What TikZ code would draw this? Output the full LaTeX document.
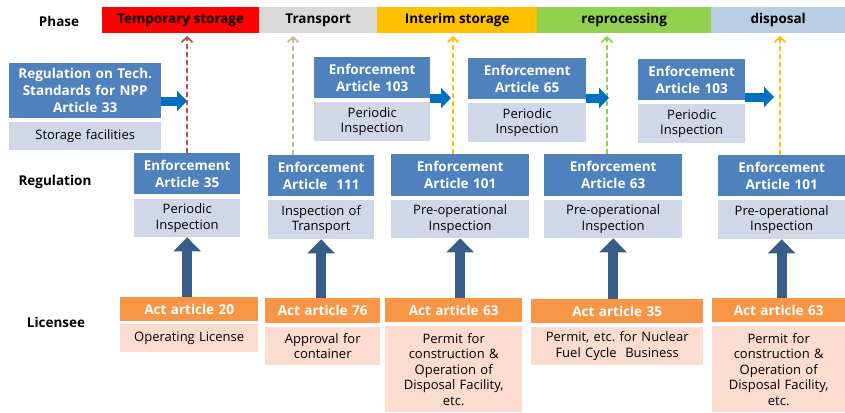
\documentclass[tikz,border=0pt]{standalone}
\usepackage{fontspec}
\setmainfont{Open Sans}
\usetikzlibrary{arrows.meta}
\usetikzlibrary{positioning}

\definecolor{hdrblue}{HTML}{4F81BD}
\definecolor{subgray}{HTML}{D0D8E8}
\definecolor{actorange}{HTML}{F79646}
\definecolor{actpeach}{HTML}{FCDCCE}
\definecolor{flowblue}{HTML}{0070C0}
\definecolor{upblue}{HTML}{385D8A}
\definecolor{phred}{HTML}{FF0000}
\definecolor{phgray}{HTML}{D9D9D9}
\definecolor{phorange}{HTML}{FFC000}
\definecolor{phgreen}{HTML}{92D050}
\definecolor{phblue}{HTML}{B9CDE5}
\definecolor{dashred}{HTML}{C0504D}
\definecolor{dashtan}{HTML}{C4BD97}

\newcommand{\hdrfont}{\bfseries\fontsize{13.5}{17}\selectfont}
\newcommand{\subfont}{\fontsize{13}{15.5}\selectfont}

\begin{document}
\begin{tikzpicture}[x=1pt,y=-1pt,
    regbox/.style={anchor=north west, fill=hdrblue, text=white, font=\hdrfont, align=center, inner sep=0pt},
    insbox/.style={anchor=north west, fill=subgray, font=\subfont, align=center, inner sep=0pt},
    actbox/.style={anchor=north west, fill=actorange, text=white, font=\hdrfont, align=center, inner sep=0pt},
    licbox/.style={anchor=north west, fill=actpeach, font=\subfont, align=center, inner sep=0pt},
    phasebox/.style={anchor=north west, font=\hdrfont, minimum height=26pt, inner sep=0pt},
    rowlabel/.style={font=\hdrfont},
    flow/.style={flowblue, line width=9pt, -{Triangle[length=10pt,width=20pt]}},
    uparrow/.style={upblue, line width=10pt, -{Triangle[length=14pt,width=27pt]}},
    phaselink/.style={dash pattern=on 5pt off 3pt, line width=1.8pt, -{Straight Barb[length=5pt,width=11pt,line width=1.8pt]}}]
    \useasboundingbox (0,0) rectangle (845,412);
    % Row labels
    \node[rowlabel] (lphase) at (59,21) {Phase};
    \node[rowlabel] (lreg) at (55,182) {Regulation};
    \node[rowlabel] (llic) at (56,322) {Licensee};
    % Phase bar
    \node[phasebox, fill=phred, minimum width=157pt] (phA) at (102,7) {Temporary storage};
    \node[phasebox, fill=phgray, minimum width=118pt] (phB) at (259,7) {Transport};
    \node[phasebox, fill=phorange, minimum width=160pt] (phC) at (377,7) {Interim storage};
    \node[phasebox, fill=phgreen, minimum width=174pt] (phD) at (537,7) {reprocessing};
    \node[phasebox, fill=phblue, minimum width=134pt] (phE) at (711,7) {disposal};
    % Upper regulations
    \node[regbox, text width=152pt, minimum height=55pt] (regA) at (9,63) {Regulation on Tech.\\Standards for NPP\\Article 33};
    \node[insbox, text width=152pt, minimum height=28pt] (insA) at (9,122) {Storage facilities};
    \node[regbox, text width=116pt, minimum height=41pt] (regB) at (314,57) {Enforcement\\Article 103};
    \node[insbox, text width=116pt, minimum height=39pt] (insB) at (314,102) {Periodic\\Inspection};
    \node[regbox, text width=118pt, minimum height=41pt] (regC) at (468,58) {Enforcement\\Article 65};
    \node[insbox, text width=118pt, minimum height=39pt] (insC) at (468,103) {Periodic\\Inspection};
    \node[regbox, text width=107pt, minimum height=41pt] (regD) at (638,59) {Enforcement\\Article 103};
    \node[insbox, text width=107pt, minimum height=39pt] (insD) at (638,104) {Periodic\\Inspection};
    % Regulation row
    \node[regbox, text width=106pt, minimum height=41pt] (enf1) at (134,153) {Enforcement\\Article 35};
    \node[insbox, text width=106pt, minimum height=38pt] (chk1) at (134,199) {Periodic\\Inspection};
    \node[regbox, text width=106pt, minimum height=41pt] (enf2) at (268,155) {Enforcement\\Article\ \ 111};
    \node[insbox, text width=106pt, minimum height=39pt] (chk2) at (268,200) {Inspection of\\Transport};
    \node[regbox, text width=138pt, minimum height=42pt] (enf3) at (391,154) {Enforcement\\Article 101};
    \node[insbox, text width=138pt, minimum height=38pt] (chk3) at (391,200) {Pre-operational\\Inspection};
    \node[regbox, text width=138pt, minimum height=42pt] (enf4) at (544,154) {Enforcement\\Article 63};
    \node[insbox, text width=138pt, minimum height=38pt] (chk4) at (544,200) {Pre-operational\\Inspection};
    \node[regbox, text width=127pt, minimum height=41pt] (enf5) at (718,155) {Enforcement\\Article 101};
    \node[insbox, text width=127pt, minimum height=39pt] (chk5) at (718,200) {Pre-operational\\Inspection};
    % Licensee row
    \node[actbox, text width=138pt, minimum height=24pt] (act1) at (120,297) {Act article 20};
    \node[licbox, text width=138pt, minimum height=28pt] (lic1) at (120,324) {Operating License};
    \node[actbox, text width=115pt, minimum height=25pt] (act2) at (265,298) {Act article 76};
    \node[licbox, text width=115pt, minimum height=38pt] (lic2) at (265,327) {Approval for\\container};
    \node[actbox, text width=137pt, minimum height=24pt] (act3) at (385,298) {Act article 63};
    \node[licbox, text width=137pt, minimum height=86pt] (lic3) at (385,326) {Permit for\\construction \&\\Operation of\\Disposal Facility,\\etc.};
    \node[actbox, text width=172pt, minimum height=24pt] (act4) at (531,299) {Act article 35};
    \node[licbox, text width=172pt, minimum height=38pt] (lic4) at (531,327) {Permit, etc.\ for Nuclear\\Fuel Cycle\ \ Business};
    \node[actbox, text width=133pt, minimum height=24pt] (act5) at (712,298) {Act article 63};
    \node[licbox, text width=133pt, minimum height=86pt] (lic5) at (712,326) {Permit for\\construction \&\\Operation of\\Disposal Facility,\\etc.};
    % Links to phases
    \coordinate (tA) at (187,36);
    \coordinate (tB) at (293,36);
    \coordinate (tC) at (453,36);
    \coordinate (tD) at (607,36);
    \coordinate (tE) at (780,36);
    \draw[phaselink, dashred] (tA |- enf1.north) -- (tA);
    \draw[phaselink, dashtan] (tB |- enf2.north) -- (tB);
    \draw[phaselink, phorange] (tC |- enf3.north) -- (tC);
    \draw[phaselink, phgreen] (tD |- enf4.north) -- (tD);
    \draw[phaselink, phorange] (tE |- enf5.north) -- (tE);
    % Flow arrows
    \coordinate (fA) at (187,101);
    \coordinate (fB) at (451,98);
    \coordinate (fC) at (609,98);
    \coordinate (fD) at (774,97);
    \draw[flow] (regA.east |- fA) -- (fA);
    \draw[flow] (regB.east |- fB) -- (fB);
    \draw[flow] (regC.east |- fC) -- (fC);
    \draw[flow] (regD.east |- fD) -- (fD);
    % Licensee to regulation
    \draw[uparrow] (act1.north -| chk1.south) -- (chk1.south);
    \draw[uparrow] (act2.north -| chk2.south) -- (chk2.south);
    \draw[uparrow] (act3.north -| chk3.south) -- (chk3.south);
    \draw[uparrow] (act4.north -| chk4.south) -- (chk4.south);
    \draw[uparrow] (act5.north -| chk5.south) -- (chk5.south);
\end{tikzpicture}
\end{document}
